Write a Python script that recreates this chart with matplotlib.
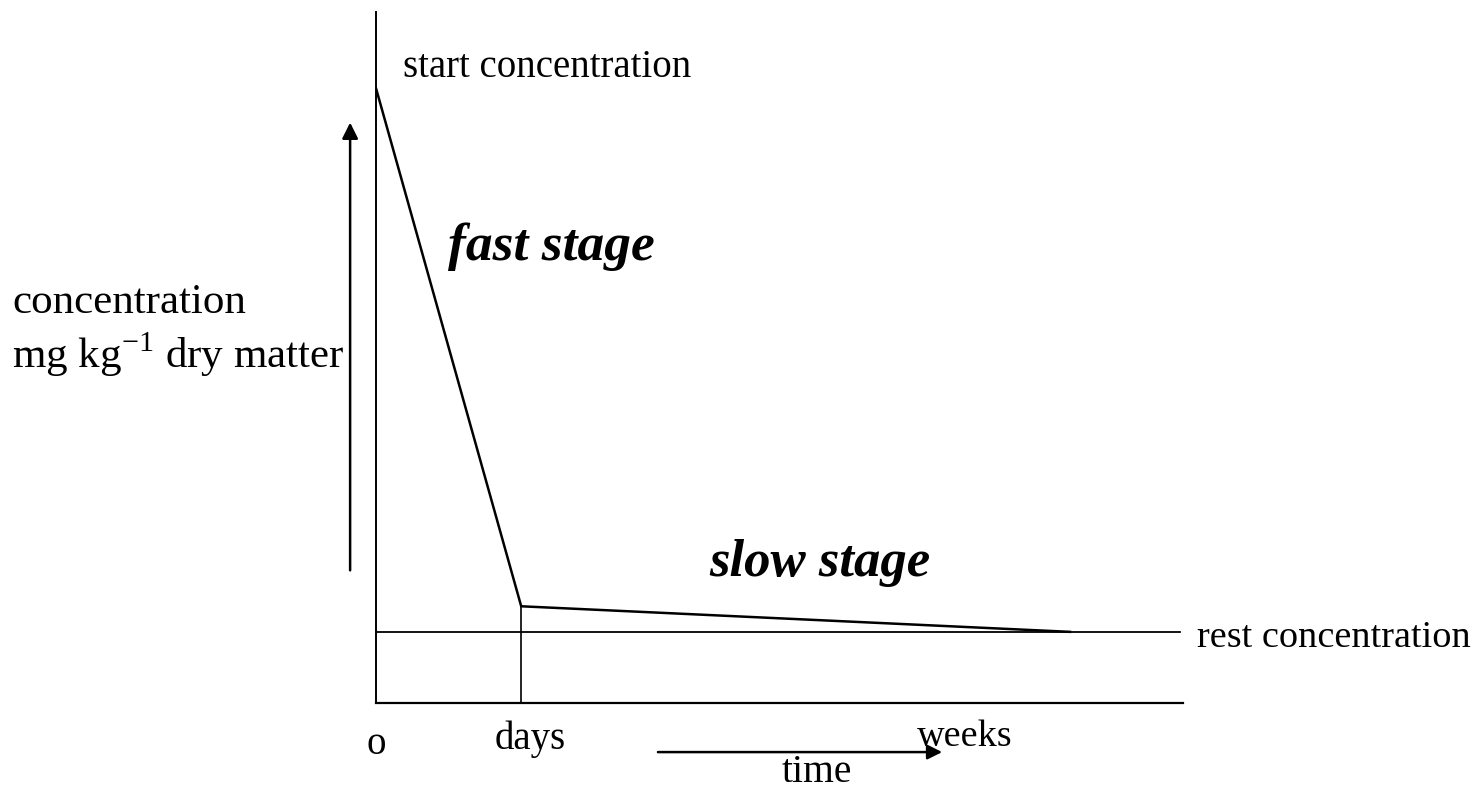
import matplotlib.pyplot as plt

# Schematic values (arbitrary units: time 0-100, concentration 0-100)
stage_time = [0, 18, 86]          # start, end of fast stage (days), end of slow stage (weeks)
stage_conc = [89, 14, 10.3]       # start concentration, knee, rest concentration
rest_time = [0, 99.6]
rest_conc = [10.3, 10.3]
days_time = 18
weeks_time = 73.0

plt.rcParams['font.family'] = ['Liberation Serif', 'DejaVu Serif']

fig = plt.figure(figsize=(14.83, 7.90), dpi=100)
ax = fig.add_axes([0.2535, 0.1101, 0.5442, 0.8747])
ax.set_xlim(0, 100)
ax.set_ylim(0, 100)
ax.spines['top'].set_visible(False)
ax.spines['right'].set_visible(False)
ax.spines['left'].set_linewidth(1.4)
ax.spines['bottom'].set_linewidth(1.6)
ax.set_xticks([])
ax.set_yticks([])

# curve and reference lines
ax.plot(stage_time, stage_conc, color='black', lw=1.8, solid_joinstyle='miter')
ax.plot(rest_time, rest_conc, color='black', lw=1.3, clip_on=False)
ax.plot([days_time, days_time], [0, stage_conc[1]], color='black', lw=1.2)

# labels inside the plot
ax.text(3.4, 92, 'start concentration', fontsize=28, va='center', ha='left')
ax.text(8.9, 66, 'fast stage', fontsize=38.5, fontweight='bold', fontstyle='italic', va='center')
ax.text(41.3, 20.3, 'slow stage', fontsize=38, fontweight='bold', fontstyle='italic', va='center')
ax.text(101.7, 9.5, 'rest concentration', fontsize=27.5, va='center', ha='left',
        clip_on=False)

# x labels
ax.text(0.0, -6.0, 'o', fontsize=28, va='center', ha='center')
ax.text(days_time + 1.1, -5.3, 'days', fontsize=28, va='center', ha='center')
ax.text(weeks_time, -4.9, 'weeks', fontsize=27.5, va='center', ha='center')
ax.text(54.6, -10.1, 'time', fontsize=28.5, va='center', ha='center')

# y label
ax.text(-45.1, 57.9, 'concentration', fontsize=31, va='center', ha='left')
ax.text(-45.1, 50.4, r'mg kg$^{\mathregular{-1}}$ dry matter', fontsize=31, va='center', ha='left')

# direction arrows
ax.annotate('', xy=(-3.2, 84.4), xytext=(-3.2, 18.8),
            arrowprops=dict(arrowstyle='-|>', color='black', lw=1.8, mutation_scale=24),
            annotation_clip=False)
ax.annotate('', xy=(70.5, -7.1), xytext=(34.6, -7.1),
            arrowprops=dict(arrowstyle='-|>', color='black', lw=1.8, mutation_scale=22),
            annotation_clip=False)

fig.savefig('out.png', dpi=100)
